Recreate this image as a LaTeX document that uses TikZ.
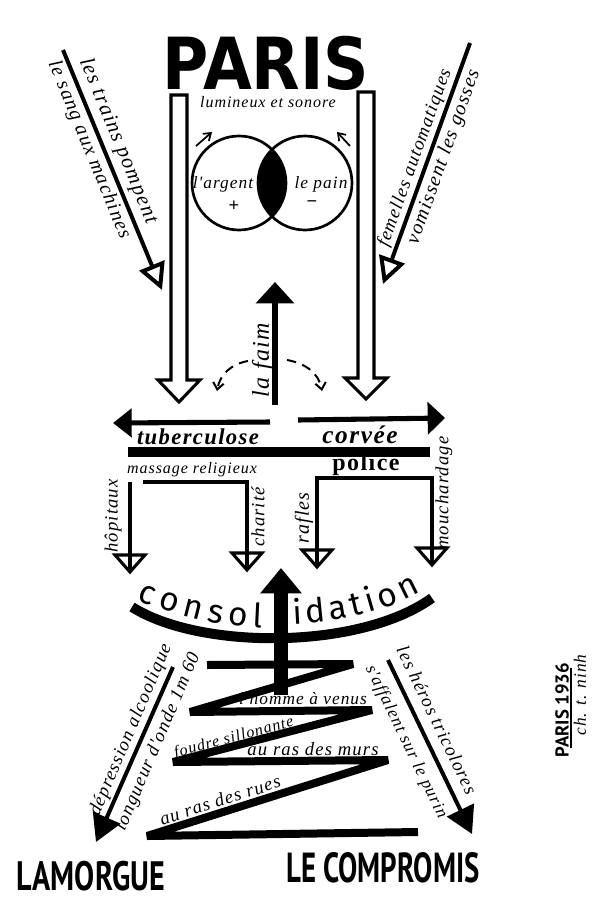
\documentclass[tikz,border=0pt]{standalone}
\usepackage{fontspec}
\usepackage{graphicx}
\usetikzlibrary{arrows.meta,decorations.text}
\setmainfont{Liberation Serif}
\newfontfamily\hand[LetterSpace=6]{Liberation Serif}
\newfontfamily\heavy{DejaVu Sans}
\newfontfamily\capsfont{PT Sans}
\newfontfamily\consolfont{Fira Sans}
\newcommand\hsz[1]{\fontsize{#1}{#1}\selectfont}
\tikzset{
  hw/.style={inner sep=0pt, font=\hand\itshape\hsz{#1}},
  hollowarrow/.style={draw, line width=2.3pt, line join=miter, fill=white},
  diag/.style={line width=3pt},
  bracket/.style={line width=3pt, line join=miter},
  vhead/.pic={\draw[line width=2.3pt, line join=miter] (-15,-17) -- (15,-17) -- (0,0) -- cycle;},
  zig/.style={line width=6pt, line join=miter, miter limit=3},
}
\begin{document}
\begin{tikzpicture}[x=0.75pt,y=-0.75pt]
\fill[white] (0,0) rectangle (597,900);
\useasboundingbox (0,0) rectangle (597,900);

% PARIS
\node[inner sep=0pt] (paris) at (266,63) {\resizebox{155pt}{40pt}{\heavy\bfseries PARIS}};

% big hollow arrows
\draw[hollowarrow] (171,95) -- (171,380) -- (158,380) -- (179,402) -- (200,380) -- (187,380) -- (187,95) -- cycle;
\draw[hollowarrow] (358,92) -- (358,378) -- (345,378) -- (366,399) -- (387,378) -- (374,378) -- (374,92) -- cycle;

\node[hw=12] (lum) at (268,102) {lumineux et sonore};

% Venn
\coordinate (cl) at (239,183);
\coordinate (cr) at (305,183);
\begin{scope}
  \clip (cl) circle (47);
  \fill (cr) circle (47);
\end{scope}
\draw[line width=2pt] (cl) circle (47);
\draw[line width=2pt] (cr) circle (47);
\node[hw=13] (arg) at (223,184) {l'argent};
\node[hw=14, font=\bfseries\hsz{14}] (plus) at (234,206) {+};
\node[hw=13] (pain) at (321,184) {le pain};
\node[hw=14, font=\bfseries\hsz{14}] (minus) at (312,204) {−};
\coordinate (va1) at (196,146); \coordinate (va2) at (212,132);
\coordinate (vb1) at (350,146); \coordinate (vb2) at (337,132);
\draw[line width=1.3pt, -{Straight Barb[length=5pt,width=7pt]}] (va1) -- (va2);
\draw[line width=1.3pt, -{Straight Barb[length=5pt,width=7pt]}] (vb1) -- (vb2);

% upper diagonal arrows
\coordinate (ul1) at (63,50); \coordinate (ul2) at (162,290);
\draw[diag, -{Triangle[open,length=20pt,width=20pt]}] (ul1) -- (ul2);
\node[hw=16, rotate=-67.7] (trains) at (118,141) {les trains pompent};
\node[hw=15, rotate=-67.7] (sang) at (89,150) {le sang aux machines};

\coordinate (ur1) at (470,43); \coordinate (ur2) at (383,284);
\draw[diag, -{Triangle[open,length=20pt,width=20pt]}] (ur1) -- (ur2);
\node[hw=14, rotate=70.3] (fem) at (415,158) {femelles automatiques};
\node[hw=15, rotate=70.3] (vom) at (444,157) {vomissent les gosses};

% la faim
\coordinate (f1) at (275,405); \coordinate (f2) at (275,282);
\draw[line width=4.5pt, -{Triangle[length=16pt,width=28pt]}] (f1) -- (f2);
\node[hw=18, rotate=90] (faim) at (263,360) {la faim};
\coordinate (dl1) at (248,361); \coordinate (dl2) at (217,391);
\coordinate (dr1) at (287,360); \coordinate (dr2) at (322,391);
\draw[line width=1.5pt, dash pattern=on 7pt off 5pt, -{Straight Barb[length=5pt,width=8pt]}] (dl1) to[out=190,in=80] (dl2);
\draw[line width=1.5pt, dash pattern=on 7pt off 5pt, -{Straight Barb[length=5pt,width=8pt]}] (dr1) to[out=-10,in=100] (dr2);

% horizontal arrows
\coordinate (h1) at (270,422); \coordinate (h2) at (113,423);
\coordinate (h3) at (298,420); \coordinate (h4) at (445,418);
\draw[line width=3.8pt, -{Triangle[length=14pt,width=21pt]}] (h1) -- (h2);
\draw[line width=3.8pt, -{Triangle[length=13pt,width=24pt]}] (h3) -- (h4);
\node[hw=17, font=\hand\itshape\bfseries\hsz{17}] (tub) at (198,437) {tuberculose};
\node[hw=19, font=\hand\itshape\bfseries\hsz{19}] (corv) at (360,435) {corvée};
\coordinate (b1) at (128,452); \coordinate (b2) at (430,452);
\draw[line width=6.8pt] (b1) -- (b2);

% left branches
\node[hw=12] (mass) at (192,470) {massage religieux};
\coordinate (l1) at (130,482); \coordinate (l2) at (130,572);
\draw[bracket] (l1) -- (l2);
\pic at (l2) {vhead};
\node[hw=14, rotate=90] (hop) at (113,516) {hôpitaux};
\coordinate (m1) at (143,482); \coordinate (m2) at (247,482); \coordinate (m3) at (247,570);
\draw[bracket] (m1) -- (m2) -- (m3);
\pic at (m3) {vhead};
\node[hw=14, rotate=90] (char) at (258,517) {charité};

% right branches
\node[hw=18, font=\hand\bfseries\hsz{18}] (pol) at (366,465) {police};
\coordinate (p1) at (317,567); \coordinate (p2) at (317,478); \coordinate (p3) at (432,478); \coordinate (p4) at (432,565);
\draw[bracket] (p1) -- (p2) -- (p3) -- (p4);
\pic at (p1) {vhead};
\pic at (p4) {vhead};
\node[hw=15, rotate=90] (raf) at (304,518) {rafles};
\node[hw=14, rotate=90] (mouch) at (444,493) {mouchardage};

% consolidation arc
\coordinate (a1) at (132,607); \coordinate (a2) at (432,598);
\draw[line width=7.5pt] (a1) .. controls (200,650) and (360,650) .. (a2);
\path[decorate, decoration={text along path, text={|\consolfont\hsz{25}|consol}, text align={fit to path}}]
  (137,600) .. controls (180,617) and (225,627) .. (262,628);
\path[decorate, decoration={text along path, text={|\consolfont\hsz{25}|idation}, text align={fit to path}}]
  (293,624) .. controls (340,622) and (385,612) .. (421,592);

% zigzag
\coordinate (z1) at (207,665); \coordinate (z2) at (353,664);
\coordinate (z3) at (190,712); \coordinate (z4) at (372,710);
\coordinate (z5) at (173,762); \coordinate (z6) at (388,760);
\coordinate (z7) at (147,836); \coordinate (z8) at (418,832);
\draw[zig] (z1) -- (z2) -- (z3) -- (z4) -- (z5) -- (z6) -- (z7) -- (z8);

% big central arrow
\coordinate (c1) at (281,695); \coordinate (c2) at (281,568);
\draw[line width=10pt, -{Triangle[length=19pt,width=30pt]}] (c1) -- (c2);

\node[hw=13] (homme) at (303,699) {l'homme à venus};
\node[hw=12, rotate=14.9] (foudre) at (234,738) {foudre sillonante};
\node[hw=14] (murs) at (313,749) {au ras des murs};
\node[hw=14, rotate=17.9] (rues) at (220,800) {au ras des rues};

% bottom diagonals
\coordinate (bl1) at (173,667); \coordinate (bl2) at (96,842);
\draw[diag, -{Triangle[length=20pt,width=22pt]}] (bl1) -- (bl2);
\node[hw=14, rotate=66.9] (dep) at (131,730) {dépression alcoolique};
\node[hw=14, rotate=66.9] (long) at (158,742) {longueur d'onde 1m 60};

\coordinate (br1) at (388,660); \coordinate (br2) at (472,834);
\draw[diag, -{Triangle[length=20pt,width=22pt]}] (br1) -- (br2);
\node[hw=14, rotate=-64.2] (heros) at (437,720) {les héros tricolores};
\node[hw=13, rotate=-64.2] (aff) at (406,742) {s'affalent sur le purin};

% signature
\node[inner sep=0pt, rotate=90, font=\capsfont\bfseries\hsz{14}] (sig1) at (562,710) {PARIS 1936};
\coordinate (s1) at (571,748); \coordinate (s2) at (571,668);
\draw[line width=1pt] (s1) -- (s2);
\node[hw=13, rotate=90] (sig2) at (580,695) {ch. t. ninh};

% bottom titles
\node[inner sep=0pt] (morgue) at (91,876) {\resizebox{111pt}{22pt}{\capsfont\bfseries LAMORGUE}};
\node[inner sep=0pt] (comp) at (383,868) {\resizebox{145pt}{22.5pt}{\capsfont\bfseries LE COMPROMIS}};
\end{tikzpicture}
\end{document}
